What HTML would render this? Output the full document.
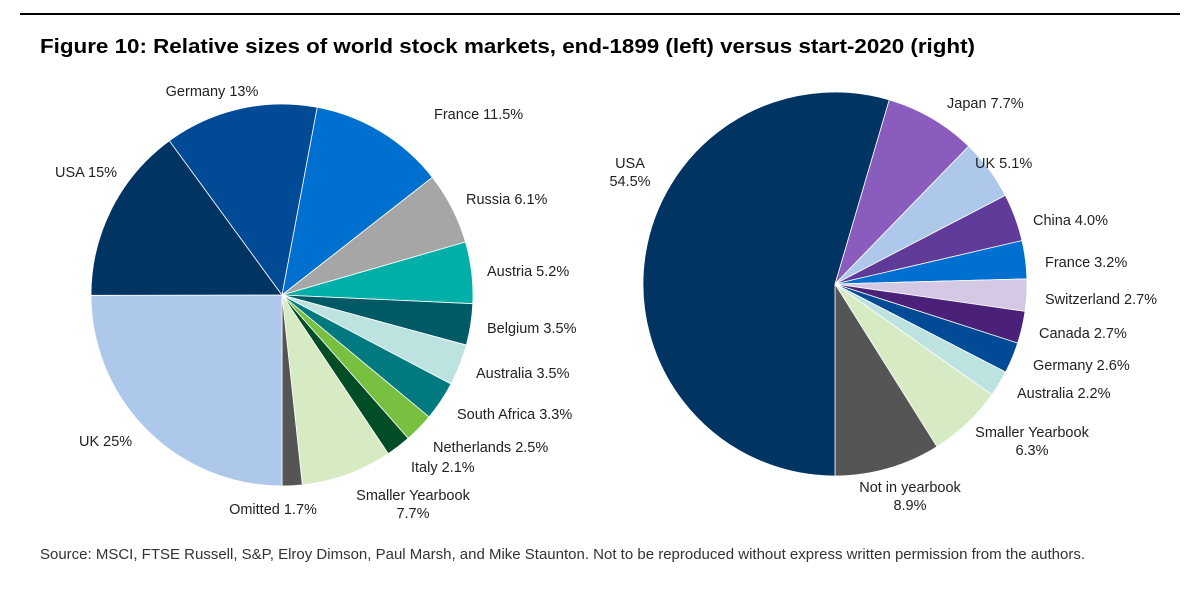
<!DOCTYPE html>
<html><head><meta charset="utf-8"><style>
body{margin:0;background:#fff;}
svg text{font-family:"Liberation Sans",sans-serif;}
</style></head><body>
<svg width="1200" height="589" viewBox="0 0 1200 589">
<rect x="0" y="0" width="1200" height="589" fill="#fff"/>
<rect x="20" y="13" width="1160" height="2" fill="#000"/>
<text x="40" y="53" font-size="20" font-weight="bold" fill="#000" textLength="935" lengthAdjust="spacingAndGlyphs">Figure 10: Relative sizes of world stock markets, end-1899 (left) versus start-2020 (right)</text>
<text x="40" y="559" font-size="14.5" fill="#333" textLength="1045" lengthAdjust="spacingAndGlyphs">Source: MSCI, FTSE Russell, S&amp;P, Elroy Dimson, Paul Marsh, and Mike Staunton. Not to be reproduced without express written permission from the authors.</text>
<g id="left"></g>
<g id="right"></g>
</svg>
<script>
const leftCats=["France","Russia","Austria","Belgium","Australia","South Africa","Netherlands","Italy","Smaller Yearbook","Omitted","UK","USA","Germany"];
const leftVals=[11.5,6.1,5.2,3.5,3.5,3.3,2.5,2.1,7.7,1.7,25,15,13];
const leftLabels=["France 11.5%","Russia 6.1%","Austria 5.2%","Belgium 3.5%","Australia 3.5%","South Africa 3.3%","Netherlands 2.5%","Italy 2.1%","Smaller Yearbook|7.7%","Omitted 1.7%","UK 25%","USA 15%","Germany 13%"];
const rightCats=["Japan","UK","China","France","Switzerland","Canada","Germany","Australia","Smaller Yearbook","Not in yearbook","USA"];
const rightVals=[7.7,5.1,4.0,3.2,2.7,2.7,2.6,2.2,6.3,8.9,54.5];
const rightLabels=["Japan 7.7%","UK 5.1%","China 4.0%","France 3.2%","Switzerland 2.7%","Canada 2.7%","Germany 2.6%","Australia 2.2%","Smaller Yearbook|6.3%","Not in yearbook|8.9%","USA|54.5%"];

const leftColors=["#0070d0","#a6a6a6","#00b0a8","#005a66","#bde3e0","#007a80","#78c040","#004d26","#d6eac4","#555555","#adc8ea","#003462","#004a96"];
const rightColors=["#8a5cbe","#adc8ea","#5f3a98","#0070d0","#d4c8e4","#4a2078","#004a96","#bde3e0","#d6eac4","#555555","#003462"];
const leftLabelPos=[[434,119,"start"],[466,204,"start"],[487,276,"start"],[487,333,"start"],[476,378,"start"],[457,419,"start"],[433,452,"start"],[411,472,"start"],[413,500,"middle"],[273,514,"middle"],[79,446,"start"],[55,177,"start"],[212,96,"middle"]];
const rightLabelPos=[[947,108,"start"],[975,168,"start"],[1033,225,"start"],[1045,267,"start"],[1045,304,"start"],[1039,338,"start"],[1033,370,"start"],[1017,398,"start"],[1032,437,"middle"],[910,492,"middle"],[630,168,"middle"]];
const NS="http://www.w3.org/2000/svg";
function angleScale(vals){const t=vals.reduce((a,b)=>a+b,0);return v=>v/t*2*Math.PI;}
function drawPie(gid,cats,vals,colors,labels,lpos,cx,cy,r,endAt){
  const g=document.getElementById(gid);
  const sc=angleScale(vals);
  let pre=0;for(let i=0;i<vals.length;i++){if(i<endAt)pre+=sc(vals[i]);}
  let a=Math.PI-pre;
  for(let i=0;i<vals.length;i++){
    const a2=a+sc(vals[i]);
    const x1=cx+r*Math.sin(a),y1=cy-r*Math.cos(a),x2=cx+r*Math.sin(a2),y2=cy-r*Math.cos(a2);
    const p=document.createElementNS(NS,"path");
    p.setAttribute("d",`M${cx},${cy}L${x1},${y1}A${r},${r} 0 ${a2-a>Math.PI?1:0} 1 ${x2},${y2}Z`);
    p.setAttribute("fill",colors[i]);p.setAttribute("stroke","#fff");p.setAttribute("stroke-width","0.8");
    
    
    g.appendChild(p);
    a=a2;
    const t=document.createElementNS(NS,"text");
    const lines=labels[i].split("|");
    t.setAttribute("x",lpos[i][0]);t.setAttribute("y",lpos[i][1]);t.setAttribute("text-anchor",lpos[i][2]);
    t.setAttribute("font-size","14.5");t.setAttribute("fill","#222");
    lines.forEach((s,k)=>{const ts=document.createElementNS(NS,"tspan");ts.setAttribute("x",lpos[i][0]);ts.setAttribute("dy",k?"18":"0");ts.textContent=s;t.appendChild(ts);});
    
    
    g.appendChild(t);
  }
}
drawPie("left",leftCats,leftVals,leftColors,leftLabels,leftLabelPos,282,295,191,10);
drawPie("right",rightCats,rightVals,rightColors,rightLabels,rightLabelPos,835,284,192,10);
</script>
</body></html>
